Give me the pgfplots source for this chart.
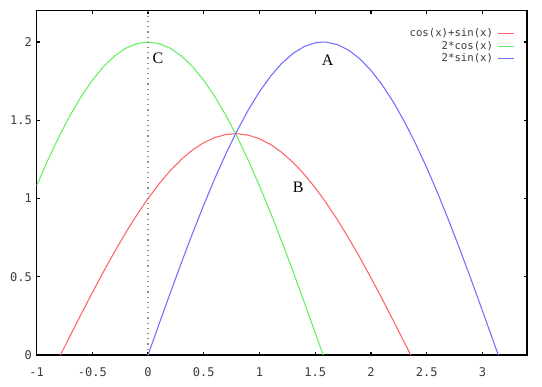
\documentclass[border=0pt]{standalone}
\usepackage{fontspec}
\setmainfont{Liberation Serif}
\setmonofont{DejaVu Sans Mono}
\usepackage{pgfplots}
\pgfplotsset{compat=1.18}
\definecolor{cred}{RGB}{255,100,100}
\definecolor{cgreen}{RGB}{100,240,100}
\definecolor{cblue}{RGB}{110,110,255}
\definecolor{tickgray}{RGB}{60,60,60}
\begin{document}
\begin{tikzpicture}
\useasboundingbox (-27.4pt,-23.25pt) rectangle (379.1pt,266.25pt);
\begin{axis}[
  at={(0,0)}, anchor=south west,
  scale only axis,
  width=367.9pt, height=258.2pt,
  xmin=-1, xmax=3.4, ymin=0, ymax=2.2,
  axis line style={line width=1.1pt},
  xtick={-1,-0.5,0,0.5,1,1.5,2,2.5,3},
  xticklabels={-1,-0.5,0,0.5,1,1.5,2,2.5,3},
  ytick={0,0.5,1,1.5,2},
  yticklabels={0,0.5,1,1.5,2},
  tick align=inside, tick pos=both,
  major tick length=2.5pt,
  every tick/.style={black, line width=1.1pt},
  ticklabel style={font=\ttfamily\fontsize{9}{10}\selectfont, text=tickgray},
  xticklabel style={yshift=-6pt},
  legend cell align=right,
  legend plot pos=right,
  legend image code/.code={\draw[#1] (0pt,0pt) -- (12pt,0pt);},
  legend style={draw=none, fill=none, at={(rel axis cs:1,1)}, anchor=north east,
    xshift=-6.5pt, yshift=-10pt, font=\ttfamily\fontsize{8}{9}\selectfont,
    text=tickgray, row sep=0pt, nodes={inner sep=1pt}, column sep=2pt},
]
\addplot[cred, line width=0.8pt] coordinates {
(-0.7854,0) (-0.7,0.1206) (-0.6,0.2607) (-0.5,0.3982) (-0.4,0.5317) (-0.3,0.6598)
(-0.2,0.7814) (-0.1,0.8952) (0,1) (0.1,1.0948) (0.2,1.1788) (0.3,1.2508)
(0.4,1.3105) (0.5,1.3570) (0.6,1.3899) (0.7,1.4090) (0.7854,1.4142) (0.8,1.4141) (0.9,1.4049)
(1.0,1.3818) (1.1,1.3448) (1.2,1.2944) (1.3,1.2311) (1.4,1.1554) (1.5,1.0682)
(1.6,0.9704) (1.7,0.8629) (1.8,0.7466) (1.9,0.6230) (2.0,0.4932) (2.1,0.3584)
(2.2,0.2200) (2.3,0.0794) (2.3562,0)
};
\addlegendentry{cos(x)+sin(x)}
\addplot[cgreen, line width=0.8pt] coordinates {
(-1.0,1.0806) (-0.9,1.2432) (-0.8,1.3934) (-0.7,1.5297) (-0.6,1.6507) (-0.5,1.7552)
(-0.4,1.8421) (-0.3,1.9107) (-0.2,1.9601) (-0.1,1.9900) (0,2) (0.1,1.9900)
(0.2,1.9601) (0.3,1.9107) (0.4,1.8421) (0.5,1.7552) (0.6,1.6507) (0.7,1.5297)
(0.8,1.3934) (0.9,1.2432) (1.0,1.0806) (1.1,0.9072) (1.2,0.7248) (1.3,0.5350)
(1.4,0.3400) (1.5,0.1415) (1.5708,0)
};
\addlegendentry{2*cos(x)}
\addplot[cblue, line width=0.8pt] coordinates {
(0,0) (0.1,0.1997) (0.2,0.3973) (0.3,0.5910) (0.4,0.7788) (0.5,0.9589)
(0.6,1.1293) (0.7,1.2884) (0.8,1.4347) (0.9,1.5667) (1.0,1.6829) (1.1,1.7824)
(1.2,1.8641) (1.3,1.9271) (1.4,1.9709) (1.5,1.9950) (1.5708,2) (1.6,1.9991) (1.7,1.9833)
(1.8,1.9477) (1.9,1.8926) (2.0,1.8186) (2.1,1.7265) (2.2,1.6170) (2.3,1.4914)
(2.4,1.3509) (2.5,1.1969) (2.6,1.0310) (2.7,0.8547) (2.8,0.6700) (2.9,0.4785)
(3.0,0.2822) (3.1,0.0831) (3.1416,0)
};
\addlegendentry{2*sin(x)}
\addplot[black!45, line width=0.9pt, dash pattern=on 0.9pt off 3pt, forget plot] coordinates {(0,0) (0,2.2)};
\node[anchor=west, inner sep=0pt, font=\fontsize{12}{12}\selectfont] at (axis cs:1.558,1.883) {A};
\node[anchor=west, inner sep=0pt, font=\fontsize{12}{12}\selectfont] at (axis cs:1.298,1.069) {B};
\node[anchor=west, inner sep=0pt, font=\fontsize{12}{12}\selectfont] at (axis cs:0.04,1.899) {C};
\end{axis}
\end{tikzpicture}
\end{document}
